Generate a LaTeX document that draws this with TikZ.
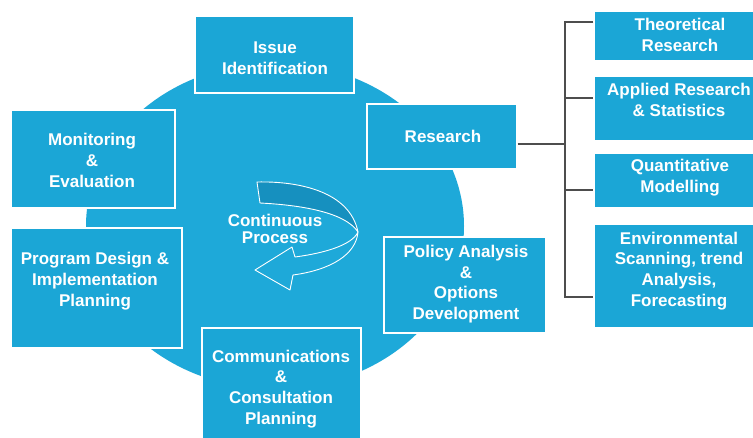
\documentclass[tikz,border=0pt]{standalone}
\usepackage{fontspec}
\setmainfont{Liberation Sans}
\usetikzlibrary{calc}
\definecolor{circblue}{HTML}{1EA9D9}
\definecolor{boxblue}{HTML}{1BA6D6}
\definecolor{ribbon}{HTML}{1690BF}
\definecolor{conngray}{HTML}{4D4D4D}
\begin{document}
\begin{tikzpicture}[x=1pt,y=-1pt,
  boxnode/.style={draw=white, line width=1.1pt, fill=boxblue, inner sep=0pt, rectangle},
  txt/.style={text=white, font=\bfseries\fontsize{17}{20.8}\selectfont, align=center, inner sep=0pt},
  conn/.style={draw=conngray, line width=1.6pt},
  arrowline/.style={draw=white, line width=0.9pt, line join=round}
]
\useasboundingbox (0,0) rectangle (753,437);
\clip (0,0) rectangle (753,437);
\fill[white] (0,0) rectangle (753,437);

% big disc
\fill[circblue] (275,226) ellipse [x radius=189, y radius=163];

% continuous process arrow
\path[arrowline, fill=ribbon] (257,182) .. controls (300,181) and (350,192) .. (358,232)
   .. controls (345,212) and (300,205) .. (260,203) -- cycle;
\path[arrowline, fill=circblue] (358,232) .. controls (356,255) and (330,270) .. (293,275)
   -- (290,290) -- (255,270) -- (292,247) -- (295,257)
   .. controls (325,253) and (352,245) .. (358,232) -- cycle;
\node[txt, font=\bfseries\fontsize{17}{16.6}\selectfont] (contT) at (275,229) {Continuous\\Process};

% boxes round the disc
\node[boxnode, minimum width=159pt, minimum height=77pt] (issue) at (274.5,54.5) {};
\node[txt] (issueT) at (275,58) {Issue\\Identification};

\node[boxnode, minimum width=164pt, minimum height=98pt] (monitor) at (93,159) {};
\node[txt] (monitorT) at (92,160.5) {Monitoring\\\&\\Evaluation};

\node[boxnode, minimum width=150pt, minimum height=65pt] (research) at (442,136.5) {};
\node[txt] (researchT) at (443,136.5) {Research};

\node[boxnode, minimum width=171pt, minimum height=120pt] (program) at (96.5,288) {};
\node[txt] (programT) at (95,281) {Program Design \&\\Implementation\\Planning};

\node[boxnode, minimum width=159pt, minimum height=117pt] (comm) at (281.5,386.5) {};
\node[txt] (commT) at (281,389) {Communications\\\&\\Consultation\\Planning};

\node[boxnode, minimum width=162pt, minimum height=96pt] (policy) at (465,285) {};
\node[txt] (policyT) at (466,284) {Policy Analysis\\\&\\Options\\Development};

% research branches
\coordinate (bt) at (565,22);
\coordinate (ba) at (565,98);
\coordinate (bm) at (565,144);
\coordinate (bq) at (565,190);
\coordinate (bb) at (565,297);

\node[boxnode, minimum width=172pt, minimum height=50pt] (theo) at (680,36) {};
\node[txt] (theoT) at (680,35) {Theoretical\\Research};

\node[boxnode, minimum width=172pt, minimum height=65pt] (applied) at (680,108.5) {};
\node[txt] (appliedT) at (679,100) {Applied Research\\\& Statistics};

\node[boxnode, minimum width=172pt, minimum height=55pt] (quant) at (680,180.5) {};
\node[txt] (quantT) at (680,178) {Quantitative\\Modelling};

\node[boxnode, minimum width=172pt, minimum height=104pt] (env) at (680,276) {};
\node[txt] (envT) at (679,271) {Environmental\\Scanning, trend\\Analysis,\\Forecasting};

\draw[conn] (research.east |- bm) -- (bm);
\draw[conn] (theo.west |- bt) -- (bt) -- (bb) -- (env.west |- bb);
\draw[conn] (ba) -- (applied.west |- ba);
\draw[conn] (bq) -- (quant.west |- bq);
\end{tikzpicture}
\end{document}
